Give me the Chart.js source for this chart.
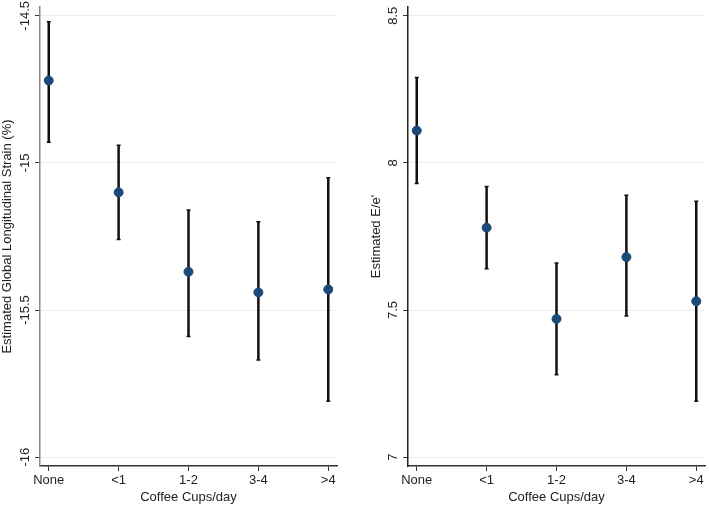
<!DOCTYPE html>
<html>
<head>
<meta charset="utf-8">
<script src="https://cdn.jsdelivr.net/npm/chart.js@4.4.0/dist/chart.umd.min.js"></script>
<style>
  html, body { margin: 0; padding: 0; background: #fff; }
  .panel { position: absolute; top: 0; height: 507px; }
  #left { left: 0; width: 354px; }
  #right { left: 354px; width: 355px; }
</style>
</head>
<body>
<div class="panel" id="left"><canvas id="glsChart"></canvas></div>
<div class="panel" id="right"><canvas id="eeChart"></canvas></div>
<script>
// categories on the x axis
const categories = ['None', '<1', '1-2', '3-4', '>4'];

// left panel: estimated global longitudinal strain (%)
const glsMean = [-14.72, -15.10, -15.37, -15.44, -15.43];
const glsLow  = [-14.93, -15.26, -15.59, -15.67, -15.81];
const glsHigh = [-14.52, -14.94, -15.16, -15.20, -15.05];
const glsTicks = [-16, -15.5, -15, -14.5];

// right panel: estimated E/e'
const eeMean = [8.11, 7.78, 7.47, 7.68, 7.53];
const eeLow  = [7.93, 7.64, 7.28, 7.48, 7.19];
const eeHigh = [8.29, 7.92, 7.66, 7.89, 7.87];
const eeTicks = [7, 7.5, 8, 8.5];

const FONT = 'Liberation Sans, Arial, Helvetica, sans-serif';
const TEXT = '#222';
const DOT = '#1b4a78';

// vertical error bars with small caps
const errorBars = {
  id: 'errorBars',
  beforeDatasetsDraw(chart) {
    const ctx = chart.ctx;
    const xs = chart.scales.x, ys = chart.scales.y;
    chart.data.datasets.forEach(ds => {
      ds.data.forEach((p, i) => {
        const x = xs.getPixelForValue(p.x);
        const y1 = ys.getPixelForValue(ds.low[i]);
        const y2 = ys.getPixelForValue(ds.high[i]);
        ctx.save();
        ctx.strokeStyle = '#111';
        ctx.lineWidth = 2.5;
        ctx.beginPath();
        ctx.moveTo(x, y1);
        ctx.lineTo(x, y2);
        ctx.stroke();
        ctx.lineWidth = 1.5;
        ctx.beginPath();
        ctx.moveTo(x - 2, y1); ctx.lineTo(x + 2, y1);
        ctx.moveTo(x - 2, y2); ctx.lineTo(x + 2, y2);
        ctx.stroke();
        ctx.restore();
      });
    });
  }
};

// rotated y tick labels (Stata style)
const rotatedTicks = {
  id: 'rotatedTicks',
  afterDraw(chart) {
    const ctx = chart.ctx;
    const ys = chart.scales.y;
    ctx.save();
    ctx.fillStyle = TEXT;
    ctx.font = '13px ' + FONT;
    ctx.textAlign = 'center';
    ctx.textBaseline = 'middle';
    ys.ticks.forEach(t => {
      const py = ys.getPixelForValue(t.value);
      ctx.save();
      ctx.translate(ys.right - 15, py);
      ctx.rotate(-Math.PI / 2);
      ctx.fillText(String(t.value), 0, 0);
      ctx.restore();
    });
    ctx.restore();
  }
};

function makeChart(id, mean, low, high, ticks, yTitle, pad, yWidth, yAxisColor) {
  const ctx = document.getElementById(id).getContext('2d');
  return new Chart(ctx, {
    type: 'scatter',
    data: {
      datasets: [{
        data: mean.map((v, i) => ({ x: i, y: v })),
        low: low,
        high: high,
        backgroundColor: DOT,
        borderColor: DOT,
        pointRadius: 4.5,
        pointHoverRadius: 4.5
      }]
    },
    options: {
      responsive: true,
      maintainAspectRatio: false,
      animation: false,
      layout: { autoPadding: false, padding: pad },
      plugins: { legend: { display: false }, tooltip: { enabled: false } },
      scales: {
        x: {
          type: 'linear',
          min: -0.125,
          max: 4.125,
          afterBuildTicks: s => { s.ticks = categories.map((c, i) => ({ value: i })); },
          afterFit: s => { s.height = 41; },
          grid: { drawOnChartArea: false, tickLength: 5, tickColor: '#333', tickWidth: 1 },
          border: { color: '#333', width: 1.5 },
          ticks: {
            padding: 2,
            color: TEXT,
            font: { size: 13, family: FONT },
            maxRotation: 0,
            callback: v => categories[v]
          },
          title: {
            display: true,
            text: 'Coffee Cups/day',
            color: TEXT,
            font: { size: 13, family: FONT },
            padding: { top: 0, bottom: 2 }
          }
        },
        y: {
          min: ticks[0] - 0.03,
          max: ticks[ticks.length - 1] + 0.03,
          afterBuildTicks: s => { s.ticks = ticks.map(v => ({ value: v })); },
          afterFit: s => { s.width = yWidth; },
          grid: { color: '#e4eff1', lineWidth: 1, tickLength: 5, tickColor: '#333', tickWidth: 1 },
          border: { color: yAxisColor, width: 1.5 },
          ticks: { display: false },
          title: {
            display: true,
            text: yTitle,
            color: TEXT,
            font: { size: 13, family: FONT },
            padding: { top: 0, bottom: 0 }
          }
        }
      }
    },
    plugins: [errorBars, rotatedTicks]
  });
}

makeChart('glsChart', glsMean, glsLow, glsHigh, glsTicks,
  'Estimated Global Longitudinal Strain (%)', { left: 0, right: 17, top: 7, bottom: 0 }, 40, '#888');
makeChart('eeChart', eeMean, eeLow, eeHigh, eeTicks,
  "Estimated E/e'", { left: 15, right: 4, top: 7, bottom: 0 }, 39, '#222');
</script>
</body>
</html>
